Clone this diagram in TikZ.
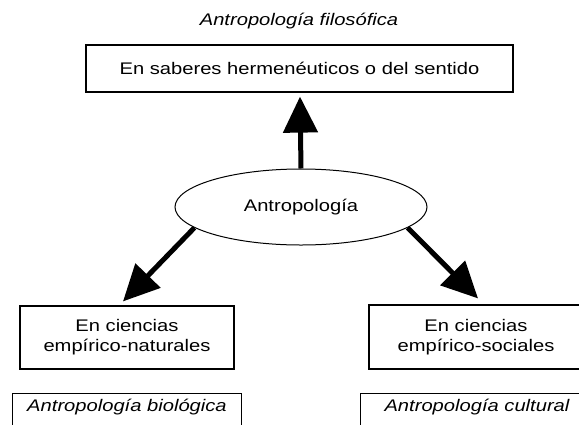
\documentclass[tikz,border=0pt]{standalone}
\usepackage{fontspec}
\setmainfont{Liberation Sans}[FakeStretch=1.2]
\usetikzlibrary{arrows.meta,shapes.geometric,calc}
\begin{document}
\begin{tikzpicture}[x=1pt,y=-1pt,
  txt/.style={font=\fontsize{16.8}{20}\selectfont},
  itxt/.style={font=\fontsize{16.8}{20}\selectfont\itshape},
  box/.style={txt, draw, line width=1.2pt, rectangle, align=center, inner sep=0pt},
  oval/.style={txt, draw, ellipse, line width=1pt, inner sep=0pt},
  openbox/.style={line width=1.2pt},
  bigarrow/.style={line width=5pt, -{Triangle[width=34pt,length=36pt]}}]
\useasboundingbox (0,0) rectangle (579,424);
\clip (0,0) rectangle (579,424);
\fill[white] (0,0) rectangle (579,424);
\node[itxt] (title) at (299,21) {Antropología filosófica};
\node[box, minimum width=427pt, minimum height=47pt] (top) at (299.5,68.5) {En saberes hermenéuticos o del sentido};
\node[oval, minimum width=252pt, minimum height=76pt] (ell) at (301,207) {Antropología};
\node[box, minimum width=214pt, minimum height=63pt] (lbox) at (127,337.5) {En ciencias\\empírico-naturales};
\node[box, minimum width=214pt, minimum height=64pt] (rbox) at (476,337) {En ciencias\\empírico-sociales};
\node[itxt, minimum width=228pt, minimum height=26pt, inner sep=0pt] (lbot) at (127,407) {Antropología biológica};
\node[itxt, minimum width=232pt, minimum height=26pt, inner sep=0pt] (rbot) at (477,407) {Antropología cultural};
\draw[openbox] ($(lbot.south west)+(0,20)$) -- (lbot.north west) -- (lbot.north east) -- ($(lbot.south east)+(0,20)$);
\draw[openbox] ($(rbot.south west)+(0,20)$) -- (rbot.north west) -- (rbot.north east) -- ($(rbot.south east)+(0,20)$);
\coordinate (tipU) at ($(top.south)+(0.5,4)$);
\coordinate (tipL) at ($(lbox.north)+(-4,-4)$);
\coordinate (tipR) at ($(rbox.north)+(2,-6)$);
\draw[bigarrow] (ell.north) -- (tipU);
\draw[bigarrow] (ell.191) -- (tipL);
\draw[bigarrow] (ell.349) -- (tipR);
\end{tikzpicture}
\end{document}
